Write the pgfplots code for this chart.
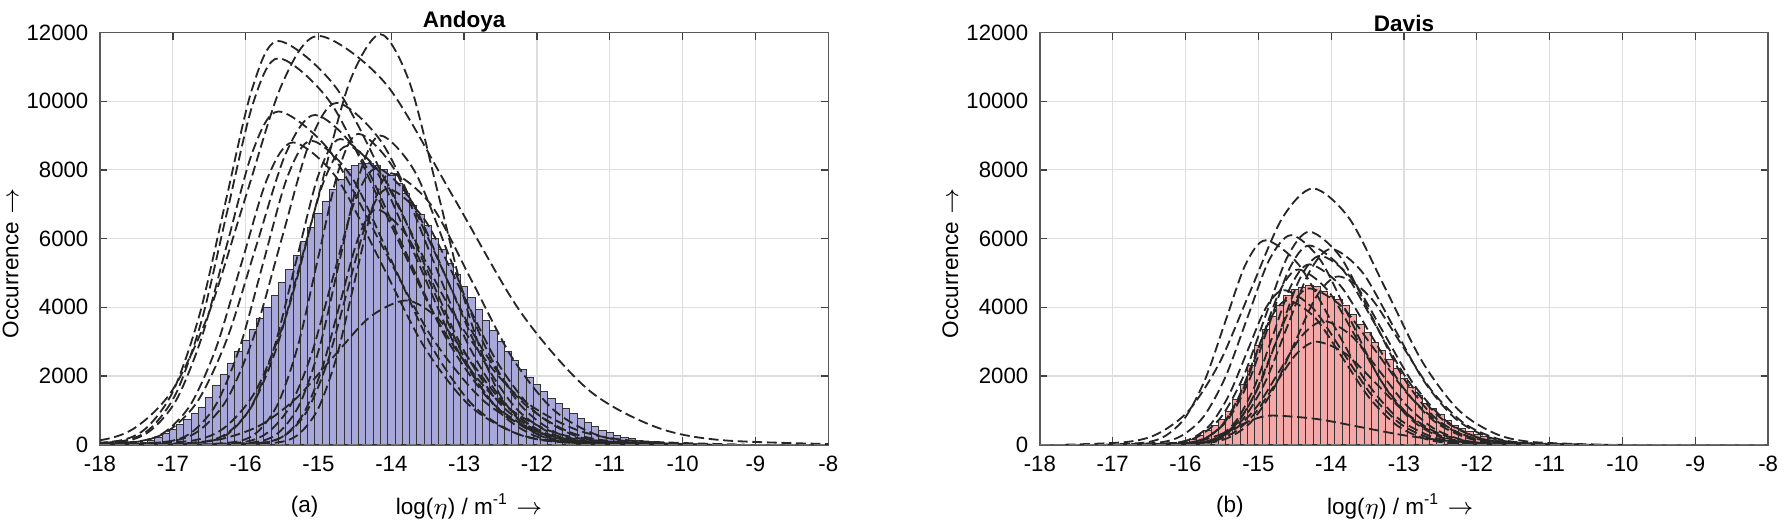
\documentclass[border=0pt]{standalone}
\usepackage{fontspec}
\setmainfont{Liberation Sans}
\usepackage{pgfplots}
\pgfplotsset{compat=1.18}
\definecolor{barA}{RGB}{168,168,218}
\definecolor{barD}{RGB}{245,168,168}
\definecolor{gridc}{RGB}{222,222,222}
\pgfplotsset{
 myax/.style={
  scale only axis, width=219.9pt, height=124.5pt,
  xmin=-18, xmax=-8, ymin=0, ymax=12000,
  xtick={-18,-17,...,-8}, ytick={0,2000,...,12000},
  grid=major, major grid style={gridc, line width=0.35pt},
  axis line style={black!65, line width=0.45pt},
  tick align=inside, tick style={black!75, line width=0.4pt}, major tick length=2.2pt,
  /pgf/number format/assume math mode=true, /pgf/number format/1000 sep={},
  scaled y ticks=false,
  tick label style={font=\fontsize{6.7}{7}\selectfont, text=black},
  title style={font=\fontsize{6.8}{8}\selectfont\bfseries, yshift=-9.4pt},
  every axis y label/.style={at={(axis description cs:0,0.44)}, xshift=-27pt, rotate=90, anchor=center, inner sep=0pt, font=\fontsize{6.8}{8}\selectfont},
  every axis x label/.style={at={(axis description cs:0.507,0)}, yshift=-18.6pt, anchor=center, inner sep=0pt, font=\fontsize{6.8}{8}\selectfont},
  ylabel={Occurrence\,\,$\rightarrow$},
  xlabel={log($\eta$) / m\textsuperscript{-1}\,\,$\rightarrow$},
 },
 fitc/.style={smooth, tension=0.5, color=black!85, line width=0.55pt, dash pattern=on 3pt off 1.4pt},
 hbar/.style={ybar, bar width=0.1, bar shift=0pt, draw=black!80, line width=0.25pt},
}
\begin{document}
\begin{tikzpicture}
% ---------------- Andoya ----------------
\begin{axis}[myax, title={Andoya},
  extra description/.code={\node[font=\fontsize{6.8}{8}\selectfont, inner sep=0pt] at (0.281,0) [yshift=-18.6pt] {(a)};}]
\addplot[hbar, fill=barA] coordinates {
(-17.8,10) (-17.7,15) (-17.6,25) (-17.5,45) (-17.4,80) (-17.3,130) (-17.2,220) (-17.1,330)
(-17.0,450) (-16.9,590) (-16.8,730) (-16.7,900) (-16.6,1100) (-16.5,1390) (-16.4,1725) (-16.3,2035)
(-16.2,2380) (-16.1,2720) (-16.0,3050) (-15.9,3365) (-15.8,3680) (-15.7,4010) (-15.6,4350) (-15.5,4715)
(-15.4,5100) (-15.3,5505) (-15.2,5915) (-15.1,6320) (-15.0,6720) (-14.9,7095) (-14.8,7440) (-14.7,7730)
(-14.6,8010) (-14.5,8135) (-14.4,8180) (-14.3,8180) (-14.2,8135) (-14.1,8010) (-14.0,7850) (-13.9,7600)
(-13.8,7315) (-13.7,6980) (-13.6,6690) (-13.5,6380) (-13.4,6015) (-13.3,5680) (-13.2,5290) (-13.1,4955)
(-13.0,4620) (-12.9,4280) (-12.8,3940) (-12.7,3605) (-12.6,3315) (-12.5,3000) (-12.4,2710) (-12.3,2450)
(-12.2,2190) (-12.1,1965) (-12.0,1745) (-11.9,1550) (-11.8,1360) (-11.7,1195) (-11.6,1050) (-11.5,905)
(-11.4,760) (-11.3,645) (-11.2,520) (-11.1,425) (-11.0,345) (-10.9,280) (-10.8,220) (-10.7,180)
(-10.6,135) (-10.5,105) (-10.4,85) (-10.3,65) (-10.2,50) (-10.1,40) (-10.0,30) (-9.9,24)
(-9.8,18) (-9.7,14) (-9.6,10) (-9.5,8)};
\addplot[fitc] coordinates {(-19,4) (-18,132) (-17.5,522) (-17,1610) (-16.5,3864) (-16,7217) (-15.5,10502) (-15,11900) (-14.075,10502) (-13.15,7217) (-12.225,3864) (-11.3,1610) (-10.375,522) (-9.45,132) (-7.6,4)};
\addplot[fitc] coordinates {(-18.43,4) (-17.71,130) (-17.35,516) (-16.99,1590) (-16.63,3815) (-16.27,7126) (-15.91,10369) (-15.55,11750) (-14.75,10369) (-13.95,7126) (-13.15,3815) (-12.35,1590) (-11.55,516) (-10.75,130) (-9.15,4)};
\addplot[fitc] coordinates {(-18.35,3) (-17.65,125) (-17.3,494) (-16.95,1522) (-16.6,3653) (-16.25,6823) (-15.9,9928) (-15.55,11250) (-14.825,9928) (-14.1,6823) (-13.375,3653) (-12.65,1522) (-11.925,494) (-11.2,125) (-9.75,3)};
\addplot[fitc] coordinates {(-17.55,4) (-16.7,133) (-16.275,525) (-15.85,1617) (-15.425,3880) (-15,7248) (-14.575,10546) (-14.15,11950) (-13.75,10546) (-13.35,7248) (-12.95,3880) (-12.55,1617) (-12.15,525) (-11.75,133) (-10.95,4)};
\addplot[fitc] coordinates {(-18.35,3) (-17.65,108) (-17.3,426) (-16.95,1312) (-16.6,3150) (-16.25,5883) (-15.9,8560) (-15.55,9700) (-14.85,8560) (-14.15,5883) (-13.45,3150) (-12.75,1312) (-12.05,426) (-11.35,108) (-9.95,3)};
\addplot[fitc] coordinates {(-17.75,3) (-17,110) (-16.625,437) (-16.25,1346) (-15.875,3231) (-15.5,6035) (-15.125,8781) (-14.75,9950) (-14.125,8781) (-13.5,6035) (-12.875,3231) (-12.25,1346) (-11.625,437) (-11,110) (-9.75,3)};
\addplot[fitc] coordinates {(-18.25,3) (-17.45,107) (-17.05,421) (-16.65,1299) (-16.25,3117) (-15.85,5822) (-15.45,8472) (-15.05,9600) (-14.45,8472) (-13.85,5822) (-13.25,3117) (-12.65,1299) (-12.05,421) (-11.45,107) (-10.25,3)};
\addplot[fitc] coordinates {(-18.15,3) (-17.45,98) (-17.1,386) (-16.75,1191) (-16.4,2857) (-16.05,5337) (-15.7,7766) (-15.35,8800) (-14.75,7766) (-14.15,5337) (-13.55,2857) (-12.95,1191) (-12.35,386) (-11.75,98) (-10.55,3)};
\addplot[fitc] coordinates {(-17.7,3) (-17.05,98) (-16.725,389) (-16.4,1197) (-16.075,2874) (-15.75,5368) (-15.425,7810) (-15.1,8850) (-14.55,7810) (-14,5368) (-13.45,2874) (-12.9,1197) (-12.35,389) (-11.8,98) (-10.7,3)};
\addplot[fitc] coordinates {(-17.1,3) (-16.5,99) (-16.2,391) (-15.9,1204) (-15.6,2890) (-15.3,5398) (-15,7854) (-14.7,8900) (-14.175,7854) (-13.65,5398) (-13.125,2890) (-12.6,1204) (-12.075,391) (-11.55,99) (-10.5,3)};
\addplot[fitc] coordinates {(-16.65,3) (-16.1,100) (-15.825,397) (-15.55,1224) (-15.275,2939) (-15,5489) (-14.725,7987) (-14.45,9050) (-13.95,7987) (-13.45,5489) (-12.95,2939) (-12.45,1224) (-11.95,397) (-11.45,100) (-10.45,3)};
\addplot[fitc] coordinates {(-16.35,3) (-15.8,100) (-15.525,395) (-15.25,1218) (-14.975,2922) (-14.7,5459) (-14.425,7943) (-14.15,9000) (-13.675,7943) (-13.2,5459) (-12.725,2922) (-12.25,1218) (-11.775,395) (-11.3,100) (-10.35,3)};
\addplot[fitc] coordinates {(-16.6,2) (-16,89) (-15.7,353) (-15.4,1089) (-15.1,2614) (-14.8,4882) (-14.5,7104) (-14.2,8050) (-13.725,7104) (-13.25,4882) (-12.775,2614) (-12.3,1089) (-11.825,353) (-11.35,89) (-10.4,2)};
\addplot[fitc] coordinates {(-16.25,2) (-15.7,83) (-15.425,327) (-15.15,1008) (-14.875,2419) (-14.6,4518) (-14.325,6575) (-14.05,7450) (-13.55,6575) (-13.05,4518) (-12.55,2419) (-12.05,1008) (-11.55,327) (-11.05,83) (-10.05,2)};
\addplot[fitc] coordinates {(-16.2,2) (-15.7,76) (-15.45,301) (-15.2,927) (-14.95,2224) (-14.7,4155) (-14.45,6045) (-14.2,6850) (-13.775,6045) (-13.35,4155) (-12.925,2224) (-12.5,927) (-12.075,301) (-11.65,76) (-10.8,2)};
\addplot[fitc] coordinates {(-17.8,1) (-16.8,47) (-16.3,184) (-15.8,568) (-15.3,1364) (-14.8,2547) (-14.3,3707) (-13.8,4200) (-13.375,3707) (-12.95,2547) (-12.525,1364) (-12.1,568) (-11.675,184) (-11.25,47) (-10.4,1)};
\addplot[fitc] coordinates {(-16,2) (-15.5,88) (-15.25,347) (-15,1069) (-14.75,2565) (-14.5,4791) (-14.25,6972) (-14,7900) (-13.45,6972) (-12.9,4791) (-12.35,2565) (-11.8,1069) (-11.25,347) (-10.7,88) (-9.6,2)};
\addplot[fitc] coordinates {(-17.2,3) (-16.55,97) (-16.225,382) (-15.9,1177) (-15.575,2825) (-15.25,5277) (-14.925,7678) (-14.6,8700) (-14.075,7678) (-13.55,5277) (-13.025,2825) (-12.5,1177) (-11.975,382) (-11.45,97) (-10.4,3)};
\addplot[fitc, color=black!55] coordinates {(-18,0) (-8,0)};
\end{axis}
% ---------------- Davis ----------------
\begin{axis}[myax, at={(283.8pt,0pt)}, title={Davis},
  extra description/.code={\node[font=\fontsize{6.8}{8}\selectfont, inner sep=0pt] at (0.261,0) [yshift=-18.6pt] {(b)};},
  every axis x label/.append style={at={(axis description cs:0.495,0)}}]
\addplot[hbar, fill=barD] coordinates {
(-16.3,10) (-16.2,20) (-16.1,40) (-16.0,80) (-15.9,150) (-15.8,280) (-15.7,425) (-15.6,570)
(-15.5,740) (-15.4,980) (-15.3,1310) (-15.2,1755) (-15.1,2305) (-15.0,2880) (-14.9,3365) (-14.8,3750)
(-14.7,4070) (-14.6,4340) (-14.5,4510) (-14.4,4590) (-14.3,4640) (-14.2,4610) (-14.1,4460) (-14.0,4320)
(-13.9,4240) (-13.8,4050) (-13.7,3800) (-13.6,3510) (-13.5,3270) (-13.4,2980) (-13.3,2740) (-13.2,2480)
(-13.1,2210) (-13.0,1920) (-12.9,1680) (-12.8,1440) (-12.7,1195) (-12.6,1050) (-12.5,880) (-12.4,715)
(-12.3,570) (-12.2,470) (-12.1,375) (-12.0,300) (-11.9,230) (-11.8,180) (-11.7,135) (-11.6,105)
(-11.5,85) (-11.4,65) (-11.3,50) (-11.2,40) (-11.1,30) (-11.0,22) (-10.9,16) (-10.8,12)
(-10.7,9) (-10.6,6) (-10.5,4)};
\addplot[fitc] coordinates {(-17.65,2) (-16.8,83) (-16.375,327) (-15.95,1009) (-15.525,2422) (-15.1,4524) (-14.675,6583) (-14.25,7460) (-13.75,6583) (-13.25,4524) (-12.75,2422) (-12.25,1009) (-11.75,327) (-11.25,83) (-10.25,2)};
\addplot[fitc] coordinates {(-17.1,2) (-16.55,66) (-16.275,261) (-16,805) (-15.725,1932) (-15.45,3609) (-15.175,5251) (-14.9,5950) (-14.45,5251) (-14,3609) (-13.55,1932) (-13.1,805) (-12.65,261) (-12.2,66) (-11.3,2)};
\addplot[fitc] coordinates {(-16.7,2) (-16.1,69) (-15.8,272) (-15.5,839) (-15.2,2013) (-14.9,3760) (-14.6,5472) (-14.3,6200) (-13.875,5472) (-13.45,3760) (-13.025,2013) (-12.6,839) (-12.175,272) (-11.75,69) (-10.9,2)};
\addplot[fitc] coordinates {(-16.95,2) (-16.35,68) (-16.05,268) (-15.75,825) (-15.45,1981) (-15.15,3700) (-14.85,5383) (-14.55,6100) (-14.15,5383) (-13.75,3700) (-13.35,1981) (-12.95,825) (-12.55,268) (-12.15,68) (-11.35,2)};
\addplot[fitc] coordinates {(-16.5,2) (-15.95,64) (-15.675,255) (-15.4,785) (-15.125,1883) (-14.85,3518) (-14.575,5119) (-14.3,5800) (-13.85,5119) (-13.4,3518) (-12.95,1883) (-12.5,785) (-12.05,255) (-11.6,64) (-10.7,2)};
\addplot[fitc] coordinates {(-16.35,2) (-15.8,61) (-15.525,241) (-15.25,744) (-14.975,1786) (-14.7,3336) (-14.425,4854) (-14.15,5500) (-13.725,4854) (-13.3,3336) (-12.875,1786) (-12.45,744) (-12.025,241) (-11.6,61) (-10.75,2)};
\addplot[fitc] coordinates {(-16.3,2) (-15.8,58) (-15.55,230) (-15.3,710) (-15.05,1705) (-14.8,3184) (-14.55,4633) (-14.3,5250) (-13.875,4633) (-13.45,3184) (-13.025,1705) (-12.6,710) (-12.175,230) (-11.75,58) (-10.9,2)};
\addplot[fitc] coordinates {(-16.45,2) (-15.95,57) (-15.7,224) (-15.45,690) (-15.2,1656) (-14.95,3093) (-14.7,4501) (-14.45,5100) (-14.05,4501) (-13.65,3093) (-13.25,1656) (-12.85,690) (-12.45,224) (-12.05,57) (-11.25,2)};
\addplot[fitc] coordinates {(-16.3,1) (-15.7,54) (-15.4,215) (-15.1,663) (-14.8,1591) (-14.5,2972) (-14.2,4324) (-13.9,4900) (-13.475,4324) (-13.05,2972) (-12.625,1591) (-12.2,663) (-11.775,215) (-11.35,54) (-10.5,1)};
\addplot[fitc] coordinates {(-16.65,1) (-16.15,50) (-15.9,198) (-15.65,609) (-15.4,1461) (-15.15,2729) (-14.9,3971) (-14.65,4500) (-14.25,3971) (-13.85,2729) (-13.45,1461) (-13.05,609) (-12.65,198) (-12.25,50) (-11.45,1)};
\addplot[fitc] coordinates {(-16.3,1) (-15.8,51) (-15.55,200) (-15.3,616) (-15.05,1477) (-14.8,2760) (-14.55,4015) (-14.3,4550) (-13.85,4015) (-13.4,2760) (-12.95,1477) (-12.5,616) (-12.05,200) (-11.6,51) (-10.7,1)};
\addplot[fitc] coordinates {(-16.5,1) (-15.9,40) (-15.6,158) (-15.3,487) (-15,1169) (-14.7,2183) (-14.4,3177) (-14.1,3600) (-13.725,3177) (-13.35,2183) (-12.975,1169) (-12.6,487) (-12.225,158) (-11.85,40) (-11.1,1)};
\addplot[fitc] coordinates {(-16.4,1) (-15.85,33) (-15.575,132) (-15.3,406) (-15.025,974) (-14.75,1820) (-14.475,2648) (-14.2,3000) (-13.8,2648) (-13.4,1820) (-13,974) (-12.6,406) (-12.2,132) (-11.8,33) (-11,1)};
\addplot[fitc] coordinates {(-16.8,0) (-16.3,9) (-16.05,37) (-15.8,115) (-15.55,276) (-15.3,516) (-15.05,750) (-14.8,850) (-14.2,750) (-13.6,516) (-13,276) (-12.4,115) (-11.8,37) (-11.2,9) (-10,0)};
\addplot[fitc] coordinates {(-16.4,1) (-15.95,47) (-15.725,184) (-15.5,568) (-15.275,1364) (-15.05,2547) (-14.825,3707) (-14.6,4200) (-14.225,3707) (-13.85,2547) (-13.475,1364) (-13.1,568) (-12.725,184) (-12.35,47) (-11.6,1)};
\addplot[fitc] coordinates {(-16.4,2) (-15.8,63) (-15.5,250) (-15.2,771) (-14.9,1851) (-14.6,3457) (-14.3,5030) (-14,5700) (-13.575,5030) (-13.15,3457) (-12.725,1851) (-12.3,771) (-11.875,250) (-11.45,63) (-10.6,2)};
\addplot[fitc, color=black!55] coordinates {(-18,0) (-8,0)};
\end{axis}
\path ([xshift=-0.8pt]current bounding box.west);
\end{tikzpicture}
\end{document}
